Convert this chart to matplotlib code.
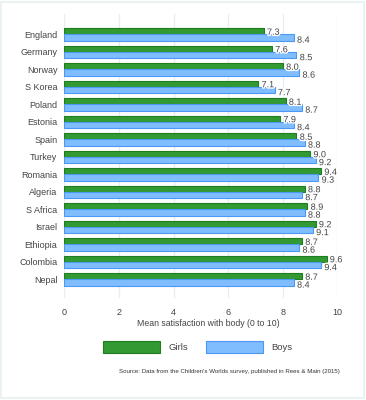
import numpy as np
import matplotlib.pyplot as plt
import matplotlib.patheffects as pe
from matplotlib.patches import Rectangle

plt.rcParams['font.family'] = ['Liberation Sans', 'DejaVu Sans']

countries = ['England', 'Germany', 'Norway', 'S Korea', 'Poland', 'Estonia', 'Spain',
             'Turkey', 'Romania', 'Algeria', 'S Africa', 'Israel', 'Ethiopia',
             'Colombia', 'Nepal']
girls = [7.3, 7.6, 8.0, 7.1, 8.1, 7.9, 8.5, 9.0, 9.4, 8.8, 8.9, 9.2, 8.7, 9.6, 8.7]
boys = [8.4, 8.5, 8.6, 7.7, 8.7, 8.4, 8.8, 9.2, 9.3, 8.7, 8.8, 9.1, 8.6, 9.4, 8.4]
xticks = [0, 2, 4, 6, 8, 10]

green, green_edge = '#339933', '#1e7d1e'
blue, blue_edge = '#80bdff', '#4a9af5'
txt = '#444444'

fig = plt.figure(figsize=(3.66, 4.0), dpi=100)
ax = fig.add_axes([0.176, 0.255, 0.746, 0.71])

y = np.arange(len(countries))
h = 0.35
ax.barh(y - h / 2, girls, height=h, color=green, edgecolor=green_edge, linewidth=0.8,
        label='Girls', zorder=2)
ax.barh(y + h / 2, boys, height=h, color=blue, edgecolor=blue_edge, linewidth=0.8,
        label='Boys', zorder=2)

halo = [pe.withStroke(linewidth=2, foreground='white')]
for i in range(len(countries)):
    ax.text(girls[i] + 0.12, y[i] - h / 2 + 0.05, f'{girls[i]:.1f}', va='center', ha='left',
            fontsize=6.5, color=txt, path_effects=halo, zorder=3)
    ax.text(boys[i] + 0.12, y[i] + h / 2 + 0.15, f'{boys[i]:.1f}', va='center', ha='left',
            fontsize=6.5, color=txt, path_effects=halo, zorder=3)

ax.set_xlim(0, 10)
ax.set_ylim(len(countries) - 1 + 1.06, -1.17)
ax.set_yticks(y)
ax.set_yticklabels(countries)
ax.set_xticks(xticks)
ax.set_xticklabels([str(t) for t in xticks])
ax.tick_params(length=0, labelsize=6.5, colors=txt, pad=5)
ax.tick_params(axis='x', pad=7)
for s in ax.spines.values():
    s.set_visible(False)
ax.grid(axis='x', color='#e6eef0', linewidth=1, zorder=0)
ax.set_axisbelow(True)

fig.text(0.568, 0.192, 'Mean satisfaction with body (0 to 10)', ha='center', va='center',
         fontsize=6.3, color=txt)

fig.legend(loc='center', bbox_to_anchor=(0.54, 0.1325), ncol=2, frameon=False,
           fontsize=6.8, handlelength=6.0, handleheight=1.7, handletextpad=0.9,
           columnspacing=1.9, labelcolor=txt)

fig.text(0.929, 0.07, "Source: Data from the Children's Worlds survey, published in Rees & Main (2015)",
         ha='right', va='center', fontsize=4.4, color='#333333')

fig.patches.append(Rectangle((0.004, 0.006), 0.99, 0.99, transform=fig.transFigure,
                             fill=False, edgecolor='#e8f0f0', linewidth=1.2))

fig.savefig('out.png', dpi=100)
